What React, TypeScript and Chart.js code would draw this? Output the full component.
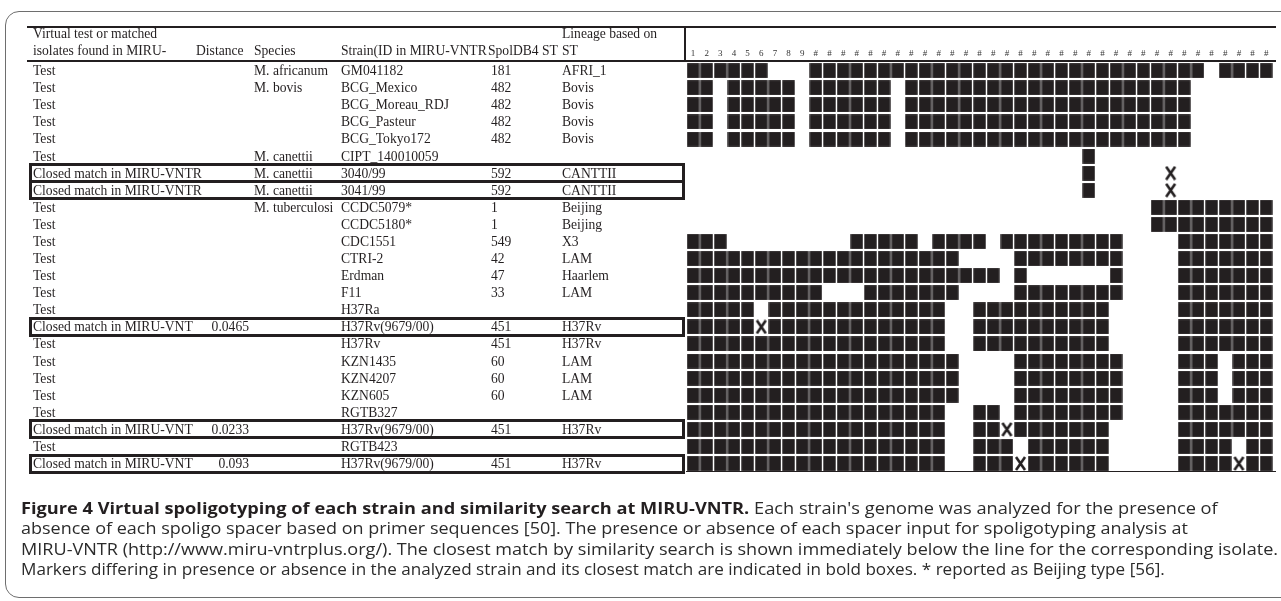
import React, { useEffect, useLayoutEffect, useRef, useState } from 'react';
import { Chart, registerables } from 'chart.js';

Chart.register(...registerables);

// ---------------- data ----------------
const SPACER_LABELS = [
  '1', '2', '3', '4', '5', '6', '7', '8', '9',
  '#', '#', '#', '#', '#', '#', '#', '#', '#', '#',
  '#', '#', '#', '#', '#', '#', '#', '#', '#', '#',
  '#', '#', '#', '#', '#', '#', '#', '#', '#', '#',
  '#', '#', '#', '#',
];

const MATCH_TYPES = [
  'Test', 'Test', 'Test', 'Test', 'Test', 'Test',
  'Closed match in MIRU-VNTR', 'Closed match in MIRU-VNTR',
  'Test', 'Test', 'Test', 'Test', 'Test', 'Test', 'Test',
  'Closed match in MIRU-VNT',
  'Test', 'Test', 'Test', 'Test', 'Test',
  'Closed match in MIRU-VNT',
  'Test',
  'Closed match in MIRU-VNT',
];

const DISTANCES = [
  '', '', '', '', '', '', '', '', '', '', '', '', '', '', '',
  '0.0465', '', '', '', '', '', '0.0233', '', '0.093',
];

const SPECIES = [
  'M. africanum', 'M. bovis', '', '', '', 'M. canettii', 'M. canettii', 'M. canettii',
  'M. tuberculosi', '', '', '', '', '', '', '', '', '', '', '', '', '', '', '',
];

const STRAINS = [
  'GM041182', 'BCG_Mexico', 'BCG_Moreau_RDJ', 'BCG_Pasteur', 'BCG_Tokyo172', 'CIPT_140010059',
  '3040/99', '3041/99', 'CCDC5079*', 'CCDC5180*', 'CDC1551', 'CTRI-2', 'Erdman', 'F11', 'H37Ra',
  'H37Rv(9679/00)', 'H37Rv', 'KZN1435', 'KZN4207', 'KZN605', 'RGTB327', 'H37Rv(9679/00)',
  'RGTB423', 'H37Rv(9679/00)',
];

const SPOLDB4_ST = [
  '181', '482', '482', '482', '482', '', '592', '592', '1', '1', '549', '42', '47', '33', '',
  '451', '451', '60', '60', '60', '', '451', '', '451',
];

const LINEAGES = [
  'AFRI_1', 'Bovis', 'Bovis', 'Bovis', 'Bovis', '', 'CANTTII', 'CANTTII', 'Beijing', 'Beijing',
  'X3', 'LAM', 'Haarlem', 'LAM', '', 'H37Rv', 'H37Rv', 'LAM', 'LAM', 'LAM', '', 'H37Rv', '', 'H37Rv',
];

const BOXED = [
  false, false, false, false, false, false, true, true, false, false, false, false,
  false, false, false, true, false, false, false, false, false, true, false, true,
];

// spacers 1..43 (groups of 10): 1 = present, 0 = absent, x = differs from tested strain
const SPOLIGOTYPES = [
  '1111110001 1111111111 1111111111 1111111101 111',
  '1101111101 1111101111 1111111111 1111111000 000',
  '1101111101 1111101111 1111111111 1111111000 000',
  '1101111101 1111101111 1111111111 1111111000 000',
  '1101111101 1111101111 1111111111 1111111000 000',
  '0000000000 0000000000 0000000001 0000000000 000',
  '0000000000 0000000000 0000000001 00000x0000 000',
  '0000000000 0000000000 0000000001 00000x0000 000',
  '0000000000 0000000000 0000000000 0000111111 111',
  '0000000000 0000000000 0000000000 0000111111 111',
  '1110000000 0011111011 1101111111 1100001111 111',
  '1111111111 1111111111 0000111111 1100001111 111',
  '1111111111 1111111111 1110100000 0100001111 111',
  '1111111111 0001111111 0000111111 1100001111 111',
  '1111101111 1111111110 0111111111 1000001111 111',
  '11111x1111 1111111110 0111111111 1000001111 111',
  '1111111111 1111111110 0111111111 1000001111 111',
  '1111111111 1111111111 0000111111 1100001110 111',
  '1111111111 1111111111 0000111111 1100001110 111',
  '1111111111 1111111111 0000111111 1100001110 111',
  '1111111111 1111111110 0110111111 1100001111 111',
  '1111111111 1111111110 011x111111 1000001111 111',
  '1111111111 1111111110 0111011111 1000001111 011',
  '1111111111 1111111110 0111x11111 1000001111 x11',
];

const CAPTION_TITLE = 'Figure 4 Virtual spoligotyping of each strain and similarity search at MIRU-VNTR.';
const CAPTION_LINE1 = " Each strain's genome was analyzed for the presence of";
const CAPTION_LINE2 = 'absence of each spoligo spacer based on primer sequences [50]. The presence or absence of each spacer input for spoligotyping analysis at';
const CAPTION_LINE3 = 'MIRU-VNTR (http://www.miru-vntrplus.org/). The closest match by similarity search is shown immediately below the line for the corresponding isolate.';
const CAPTION_LINE4 = 'Markers differing in presence or absence in the analyzed strain and its closest match are indicated in bold boxes. * reported as Beijing type [56].';

// ---------------- layout ----------------
const W = 1281;
const H = 601;
const GRID_LEFT = 686.2;
const COL_W = 13.72;
const ROW_TOP = 62.16;
const ROW_H = 17.08;
const AXIS_H = 20;
const INK = '#231f20';
const SERIF = '"Liberation Serif", "Times New Roman", serif';
const TABLE_FONT = 13.6;

const COL_TEXT_X = 33;
const COL_DIST_RIGHT = 249;
const COL_SPECIES_X = 254;
const COL_STRAIN_X = 341;
const COL_ST_X = 491;
const COL_LINEAGE_X = 562;

const CAP_LEFT = 21;
const CAP_LINE_ENDS = [1218, 1188, 1278, 1165];

function makeCellImage(): HTMLCanvasElement {
  const c = document.createElement('canvas');
  c.width = 13;
  c.height = 15;
  const g = c.getContext('2d')!;
  g.fillStyle = INK;
  g.fillRect(0.3, 0.1, 12.4, 14.8);
  return c;
}

function makeCrossImage(): HTMLCanvasElement {
  const c = document.createElement('canvas');
  c.width = 13;
  c.height = 15;
  const g = c.getContext('2d')!;
  g.strokeStyle = INK;
  g.lineWidth = 2.6;
  g.lineCap = 'butt';
  g.beginPath();
  g.moveTo(2, 1);
  g.lineTo(11, 14);
  g.moveTo(11, 1);
  g.lineTo(2, 14);
  g.stroke();
  return c;
}

function rowTop(r: number) {
  return ROW_TOP + r * ROW_H;
}

export default function App() {
  const canvasRef = useRef<HTMLCanvasElement>(null);
  const lineRefs = [
    useRef<HTMLSpanElement>(null),
    useRef<HTMLSpanElement>(null),
    useRef<HTMLSpanElement>(null),
    useRef<HTMLSpanElement>(null),
  ];
  const [capScales, setCapScales] = useState([1, 1, 1, 1]);

  useLayoutEffect(() => {
    document.body.style.margin = '0';
    const measure = () => {
      const next = lineRefs.map((ref, i) => {
        const el = ref.current;
        if (!el || el.offsetWidth <= 0) return 1;
        return (CAP_LINE_ENDS[i] - CAP_LEFT) / el.offsetWidth;
      });
      setCapScales(next);
    };
    measure();
    const fonts = (document as any).fonts;
    if (fonts && fonts.ready) fonts.ready.then(measure);
  }, []);

  useEffect(() => {
    const canvas = canvasRef.current;
    if (!canvas) return;
    const present: { x: number; y: number }[] = [];
    const differs: { x: number; y: number }[] = [];
    SPOLIGOTYPES.forEach((pattern, r) => {
      const s = pattern.replace(/ /g, '');
      for (let c = 0; c < s.length; c++) {
        if (s[c] === '1') present.push({ x: c + 1, y: r + 1 });
        else if (s[c] === 'x') differs.push({ x: c + 1, y: r + 1 });
      }
    });
    const cell = makeCellImage();
    const cross = makeCrossImage();
    const gridRight = GRID_LEFT + SPACER_LABELS.length * COL_W;
    const gridBottom = ROW_TOP + SPOLIGOTYPES.length * ROW_H;

    const chart = new Chart(canvas, {
      type: 'scatter',
      data: {
        datasets: [
          {
            label: 'present',
            data: present,
            pointStyle: cell as any,
            pointRadius: 7,
            pointHoverRadius: 7,
            clip: false as any,
          },
          {
            label: 'differs',
            data: differs,
            pointStyle: cross as any,
            pointRadius: 7,
            pointHoverRadius: 7,
            clip: false as any,
          },
        ],
      },
      options: {
        responsive: false,
        animation: false,
        devicePixelRatio: 1,
        events: [],
        layout: {
          padding: {
            left: GRID_LEFT,
            right: W - gridRight,
            top: ROW_TOP - AXIS_H,
            bottom: H - gridBottom,
          },
        },
        plugins: {
          legend: { display: false },
          tooltip: { enabled: false },
        },
        scales: {
          x: {
            type: 'linear',
            position: 'top',
            min: 0.5,
            max: SPACER_LABELS.length + 0.5,
            bounds: 'data',
            grid: { display: false, drawTicks: false },
            border: { display: false },
            afterBuildTicks: (scale: any) => {
              scale.ticks = SPACER_LABELS.map((_, i) => ({ value: i + 1 }));
            },
            afterFit: (scale: any) => {
              scale.height = AXIS_H;
            },
            ticks: {
              autoSkip: false,
              maxRotation: 0,
              minRotation: 0,
              padding: 3.5,
              color: '#333333',
              font: { family: SERIF, size: 9 },
              callback: (v: any) => SPACER_LABELS[Math.round(Number(v)) - 1] ?? '',
            },
          },
          y: {
            type: 'linear',
            min: 0.5,
            max: SPOLIGOTYPES.length + 0.5,
            reverse: true,
            bounds: 'data',
            display: false,
          },
        },
      } as any,
    });
    return () => chart.destroy();
  }, []);

  const abs = (style: React.CSSProperties): React.CSSProperties => ({ position: 'absolute', ...style });
  const textStyle: React.CSSProperties = {
    position: 'absolute',
    whiteSpace: 'nowrap',
    fontFamily: SERIF,
    fontSize: TABLE_FONT,
    lineHeight: `${ROW_H}px`,
    height: ROW_H,
    color: INK,
  };

  const gridRight = GRID_LEFT + SPACER_LABELS.length * COL_W;
  const gridBottom = ROW_TOP + SPOLIGOTYPES.length * ROW_H;

  const capLine = (i: number, top: number): React.CSSProperties => ({
    position: 'absolute',
    left: CAP_LEFT,
    top,
    whiteSpace: 'nowrap',
    fontFamily: '"Open Sans", "Liberation Sans", sans-serif',
    fontSize: 15.5,
    lineHeight: '20.4px',
    color: '#2b2b2b',
    transform: `scaleX(${capScales[i]})`,
    transformOrigin: '0 0',
  });
  const inl: React.CSSProperties = { display: 'inline-block' };

  return (
    <div style={{ position: 'relative', width: W, height: H, overflow: 'hidden', background: '#fff' }}>
      {/* figure frame */}
      <div
        style={abs({
          left: 5,
          top: 11,
          width: 1320,
          height: 587,
          border: '1.6px solid #6e6e6e',
          borderRadius: 14,
          boxSizing: 'border-box',
        })}
      />
      <canvas ref={canvasRef} width={W} height={H} style={abs({ left: 0, top: 0, width: W, height: H })} />

      {/* table rules */}
      <div style={abs({ left: 27, top: 26, width: gridRight - 27, height: 2, background: INK })} />
      <div style={abs({ left: 27, top: 59.6, width: gridRight - 27, height: 2, background: INK })} />
      <div style={abs({ left: 683.5, top: 26, width: 2, height: 35, background: INK })} />
      <div style={abs({ left: GRID_LEFT, top: gridBottom - 1.2, width: gridRight - GRID_LEFT, height: 1.4, background: INK })} />

      {/* header */}
      <div style={{ ...textStyle, left: COL_TEXT_X, top: 24.6 }}>Virtual test or matched</div>
      <div style={{ ...textStyle, left: COL_LINEAGE_X, top: 24.6 }}>Lineage based on</div>
      <div style={{ ...textStyle, left: COL_TEXT_X, top: 41.6 }}>isolates found in MIRU-</div>
      <div style={{ ...textStyle, left: 196, top: 41.6 }}>Distance</div>
      <div style={{ ...textStyle, left: COL_SPECIES_X, top: 41.6 }}>Species</div>
      <div style={{ ...textStyle, left: COL_STRAIN_X, top: 41.6 }}>Strain(ID in MIRU-VNTR</div>
      <div style={{ ...textStyle, left: 488, top: 41.6 }}>SpolDB4 ST</div>
      <div style={{ ...textStyle, left: COL_LINEAGE_X, top: 41.6 }}>ST</div>

      {/* rows */}
      {MATCH_TYPES.map((t, r) => {
        const top = rowTop(r);
        return (
          <React.Fragment key={r}>
            {BOXED[r] && (
              <div
                style={abs({
                  left: 28.5,
                  top: top - 1.5,
                  width: 656,
                  height: ROW_H + 3,
                  border: `3px solid ${INK}`,
                  boxSizing: 'border-box',
                })}
              />
            )}
            <div style={{ ...textStyle, left: COL_TEXT_X, top }}>{t}</div>
            {DISTANCES[r] && (
              <div style={{ ...textStyle, right: W - COL_DIST_RIGHT, top }}>{DISTANCES[r]}</div>
            )}
            {SPECIES[r] && <div style={{ ...textStyle, left: COL_SPECIES_X, top }}>{SPECIES[r]}</div>}
            <div style={{ ...textStyle, left: COL_STRAIN_X, top }}>{STRAINS[r]}</div>
            {SPOLDB4_ST[r] && <div style={{ ...textStyle, left: COL_ST_X, top }}>{SPOLDB4_ST[r]}</div>}
            {LINEAGES[r] && <div style={{ ...textStyle, left: COL_LINEAGE_X, top }}>{LINEAGES[r]}</div>}
          </React.Fragment>
        );
      })}

      {/* caption */}
      <div style={capLine(0, 497.8)}>
        <span ref={lineRefs[0]} style={inl}>
          <span style={{ fontWeight: 700, color: INK }}>{CAPTION_TITLE}</span>
          <span>{CAPTION_LINE1}</span>
        </span>
      </div>
      <div style={capLine(1, 518.2)}>
        <span ref={lineRefs[1]} style={inl}>{CAPTION_LINE2}</span>
      </div>
      <div style={capLine(2, 538.6)}>
        <span ref={lineRefs[2]} style={inl}>{CAPTION_LINE3}</span>
      </div>
      <div style={capLine(3, 559)}>
        <span ref={lineRefs[3]} style={inl}>{CAPTION_LINE4}</span>
      </div>
    </div>
  );
}
